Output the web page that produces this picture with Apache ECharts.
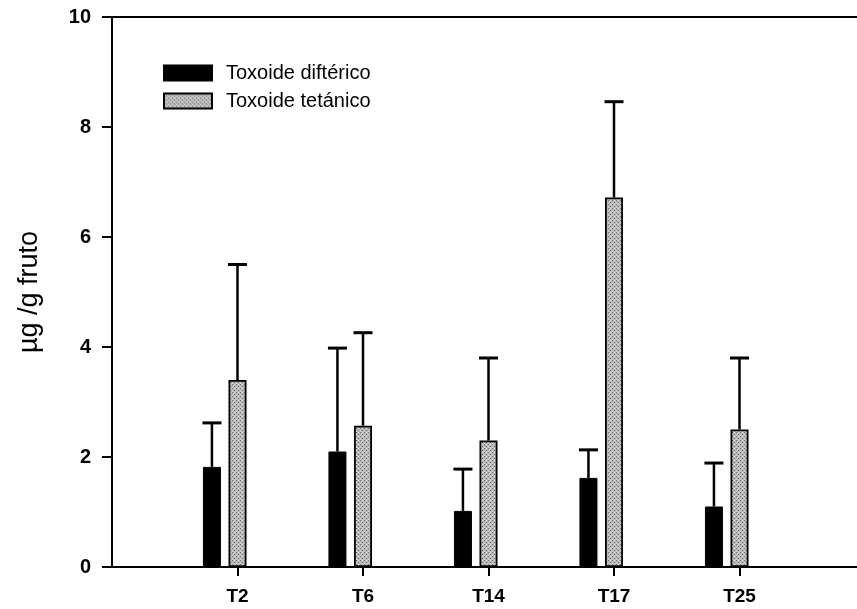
<!DOCTYPE html>
<html>
<head>
<meta charset="utf-8">
<script src="https://cdn.jsdelivr.net/npm/echarts@6/dist/echarts.min.js"></script>
<style>
  html, body { margin: 0; padding: 0; background: #fff; overflow: hidden; }
  #chart { width: 868px; height: 609px; }
</style>
</head>
<body>
<div id="chart"></div>
<script>
// Toxoid content per gram of fruit, by line
const categories = ['T2', 'T6', 'T14', 'T17', 'T25'];
const diftMean = [1.82, 2.10, 1.02, 1.62, 1.10];
const diftSD   = [0.80, 1.88, 0.76, 0.51, 0.79];
const tetMean  = [3.40, 2.57, 2.30, 6.72, 2.50];
const tetSD    = [2.10, 1.69, 1.50, 1.74, 1.30];
const yMin = 0, yMax = 10, yStep = 2;

const seriesNames = ['Toxoide diftérico', 'Toxoide tetánico'];

// empty slot at each end of the category axis
const pad = arr => ['', ...arr, ''];
const padData = arr => ['-', ...arr, '-'];

const BAR_W = 18;
const GAP_RATIO = 0.42;
const STEP = BAR_W * (1 + GAP_RATIO);

// stippled grey fill
function stipple() {
  const c = document.createElement('canvas');
  c.width = 4; c.height = 4;
  const g = c.getContext('2d');
  g.fillStyle = '#b9b9b9';
  g.fillRect(0, 0, 4, 4);
  g.fillStyle = '#6e6e6e';
  g.fillRect(0, 0, 1, 1);
  g.fillRect(2, 2, 1, 1);
  g.fillStyle = '#dedede';
  g.fillRect(2, 0, 1, 1);
  g.fillRect(0, 3, 1, 1);
  return c;
}
const tetFill = { image: stipple(), repeat: 'repeat' };

function errorData(mean, sd) {
  return mean.map((m, i) => [i + 1, m, m + sd[i]]);
}

function errorRenderer(offset) {
  return function (params, api) {
    const idx = api.value(0);
    const x = api.coord([idx, 0])[0] + offset;
    const yb = api.coord([idx, api.value(1)])[1];
    const yt = api.coord([idx, api.value(2)])[1];
    return {
      type: 'group',
      children: [
        { type: 'line', shape: { x1: x, y1: yb, x2: x, y2: yt }, style: { stroke: '#000', lineWidth: 2.5 } },
        { type: 'line', shape: { x1: x - BAR_W / 2 - 0.5, y1: yt, x2: x + BAR_W / 2 + 0.5, y2: yt }, style: { stroke: '#000', lineWidth: 3 } }
      ]
    };
  };
}

const chart = echarts.init(document.getElementById('chart'), null, { renderer: 'canvas' });

chart.setOption({
  backgroundColor: '#fff',
  animation: false,
  grid: {
    left: 112, right: 0, top: 17, bottom: 42,
    show: true, borderColor: '#000', borderWidth: 2, backgroundColor: 'transparent'
  },
  legend: {
    data: seriesNames,
    orient: 'vertical',
    left: 158, top: 58,
    itemWidth: 48, itemHeight: 15, itemGap: 8,
    icon: 'rect',
    textStyle: { fontFamily: 'Liberation Sans, Arial, sans-serif', fontSize: 20, color: '#000', padding: [0, 0, 0, 9] }
  },
  xAxis: {
    type: 'category',
    data: pad(categories),
    boundaryGap: false,
    axisLine: { lineStyle: { color: '#000', width: 2 } },
    axisTick: {
      length: 9, lineStyle: { color: '#000', width: 2 },
      interval: (i, v) => v !== ''
    },
    axisLabel: {
      interval: 0, margin: 20,
      fontFamily: 'Liberation Sans, Arial, sans-serif', fontSize: 19, fontWeight: 'bold', color: '#000'
    },
    splitLine: { show: false }
  },
  yAxis: {
    type: 'value',
    min: yMin, max: yMax, interval: yStep,
    name: 'µg /g fruto',
    nameLocation: 'middle',
    nameRotate: 90,
    nameGap: 69,
    nameTextStyle: { fontFamily: 'Liberation Sans, Arial, sans-serif', fontSize: 27, color: '#000' },
    axisLine: { show: true, lineStyle: { color: '#000', width: 2 } },
    axisTick: { show: true, length: 10, lineStyle: { color: '#000', width: 2 } },
    axisLabel: {
      margin: 21,
      fontFamily: 'Liberation Sans, Arial, sans-serif', fontSize: 20, fontWeight: 'bold', color: '#000'
    },
    splitLine: { show: false }
  },
  series: [
    {
      name: seriesNames[0], type: 'bar', data: padData(diftMean),
      barWidth: BAR_W, barGap: (GAP_RATIO * 100) + '%',
      itemStyle: { color: '#000', borderColor: '#000', borderWidth: 1 }
    },
    {
      name: seriesNames[1], type: 'bar', data: padData(tetMean),
      barWidth: BAR_W, barGap: (GAP_RATIO * 100) + '%',
      itemStyle: { color: tetFill, borderColor: '#000', borderWidth: 1.8 }
    },
    {
      // empty third slot keeps each category tick on the tetánico bar
      name: 'slot', type: 'bar', data: padData(categories.map(() => '-')),
      barWidth: BAR_W, barGap: (GAP_RATIO * 100) + '%',
      silent: true
    },
    {
      type: 'custom', data: errorData(diftMean, diftSD),
      renderItem: errorRenderer(-STEP), z: 3, silent: true
    },
    {
      type: 'custom', data: errorData(tetMean, tetSD),
      renderItem: errorRenderer(0), z: 3, silent: true
    }
  ]
});
</script>
</body>
</html>
